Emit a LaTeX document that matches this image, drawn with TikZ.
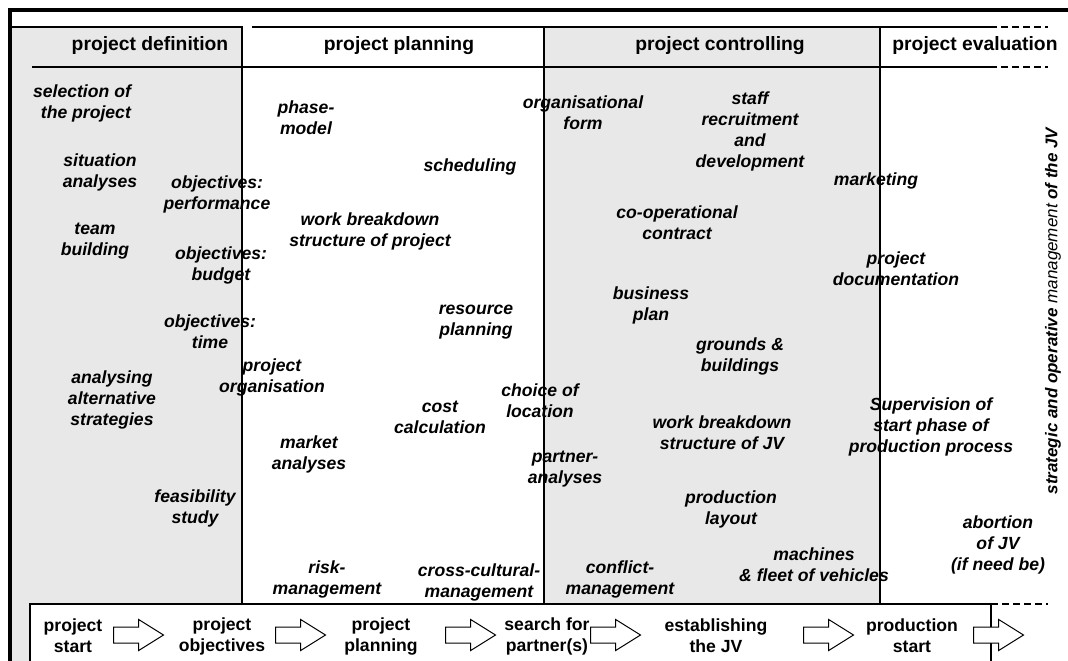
\documentclass[tikz,border=0pt]{standalone}
\usepackage{fontspec}
\setmainfont{Liberation Sans}
\usetikzlibrary{shapes.arrows}

\begin{document}
\begin{tikzpicture}[x=1pt,y=-1pt,
  lbl/.style={font=\fontsize{17.6}{21}\selectfont\bfseries\itshape, align=center, inner sep=0pt},
  head/.style={font=\fontsize{19.3}{23}\selectfont\bfseries, inner sep=0pt},
  milestone/.style={font=\fontsize{17.6}{21}\selectfont\bfseries, align=center, inner sep=0pt},
  blockarrow/.style={single arrow, draw=black, fill=white, line width=1pt,
    minimum height=50pt, inner xsep=0pt, inner ysep=7.5pt,
    single arrow head extend=7.5pt, single arrow tip angle=64, anchor=tail},
  frameline/.style={line width=3.5pt},
  rule/.style={line width=1.1pt},
  dashrule/.style={line width=1.1pt, dash pattern=on 7pt off 4pt},
  panelfill/.style={fill=gray!18}
]
\useasboundingbox (0,0) rectangle (1068,661);
\fill[white] (0,0) rectangle (1068,661);

% phase panels
\fill[panelfill] (10,27) rectangle (242,670);
\draw[rule] (10,27) -- (242,27) -- (242,604);
\draw[rule,panelfill] (544,27) rectangle (880,604);
\draw[rule] (252,27) -- (990,27);
\draw[dashrule] (990,27) -- (1048,27);
\draw[rule] (32,67) -- (990,67);
\draw[dashrule] (990,67) -- (1048,67);

% milestone strip
\fill[white] (30,604) rectangle (991,670);
\draw[rule] (30,670) -- (30,604) -- (991,604) -- (991,670);
\draw[dashrule] (991,604) -- (1048,604);

% outer frame
\draw[frameline] (10,670) -- (10,10) -- (1068,10);

% phase headings
\node[head] (hdef)  at (150,46) {project definition};
\node[head] (hplan) at (399,46) {project planning};
\node[head] (hctrl) at (720,46) {project controlling};
\node[head] (heval) at (975,46) {project evaluation};

% project definition
\node[lbl,align=right] (t1) at (82,103) {selection of\\the project};
\node[lbl] (t2) at (100,172) {situation\\analyses};
\node[lbl] (t3) at (95,241) {team\\building};
\node[lbl] (t4) at (217,194) {objectives:\\performance};
\node[lbl] (t5) at (221,265) {objectives:\\budget};
\node[lbl] (t6) at (210,332) {objectives:\\time};
\node[lbl] (t7) at (112,400) {analysing\\alternative\\strategies};
\node[lbl] (t8) at (272,377) {project\\organisation};
\node[lbl] (t9) at (195,508) {feasibility\\study};

% project planning
\node[lbl] (p1) at (306,118) {phase-\\model};
\node[lbl] (p2) at (470,167) {scheduling};
\node[lbl] (p3) at (370,231) {work breakdown\\structure of project};
\node[lbl] (p4) at (476,322) {resource\\planning};
\node[lbl] (p5) at (440,417) {cost\\calculation};
\node[lbl] (p6) at (309,454) {market\\analyses};
\node[lbl] (p7) at (327,579) {risk-\\management};
\node[lbl] (p8) at (479,582) {cross-cultural-\\management};
\node[lbl] (p9) at (540,401) {choice of\\location};
\node[lbl] (p10) at (565,469) {partner-\\analyses};

% project controlling
\node[lbl] (c1) at (583,113) {organisational\\form};
\node[lbl] (c2) at (750,131) {staff\\recruitment\\and\\development};
\node[lbl] (c3) at (677,223) {co-operational\\contract};
\node[lbl] (c4) at (651,305) {business\\plan};
\node[lbl] (c5) at (740,356) {grounds \&\\buildings};
\node[lbl] (c6) at (722,433) {work breakdown\\structure of JV};
\node[lbl] (c7) at (731,509) {production\\layout};
\node[lbl] (c8) at (620,579) {conflict-\\management};
\node[lbl] (c9) at (814,565) {machines\\\& fleet of vehicles};

% project evaluation
\node[lbl] (e1) at (876,181) {marketing};
\node[lbl] (e2) at (896,269) {project\\documentation};
\node[lbl] (e3) at (931,427) {Supervision of\\start phase of\\production process};
\node[lbl] (e4) at (998,545) {abortion\\of JV\\(if need be)};

% side caption
\node[lbl,rotate=90,font=\fontsize{17}{20}\selectfont\bfseries\itshape] (side) at (1053,311)
  {strategic and operative \textmd{management} of the JV};

% milestones
\node[milestone] (m1) at (73,636) {project\\start};
\node[milestone] (m2) at (222,636) {project\\objectives};
\node[milestone] (m3) at (381,636) {project\\planning};
\node[milestone] (m4) at (547,636) {search for\\partner(s)};
\node[milestone] (m5) at (716,636) {establishing\\the JV};
\node[milestone] (m6) at (912,636) {production\\start};

% block arrows between the milestones
\node[blockarrow] (a1) at (113,635) {};
\node[blockarrow] (a2) at (275,635) {};
\node[blockarrow] (a3) at (445,635) {};
\node[blockarrow] (a4) at (590,635) {};
\node[blockarrow] (a5) at (803,635) {};
\node[blockarrow] (a6) at (973,635) {};
\end{tikzpicture}
\end{document}
